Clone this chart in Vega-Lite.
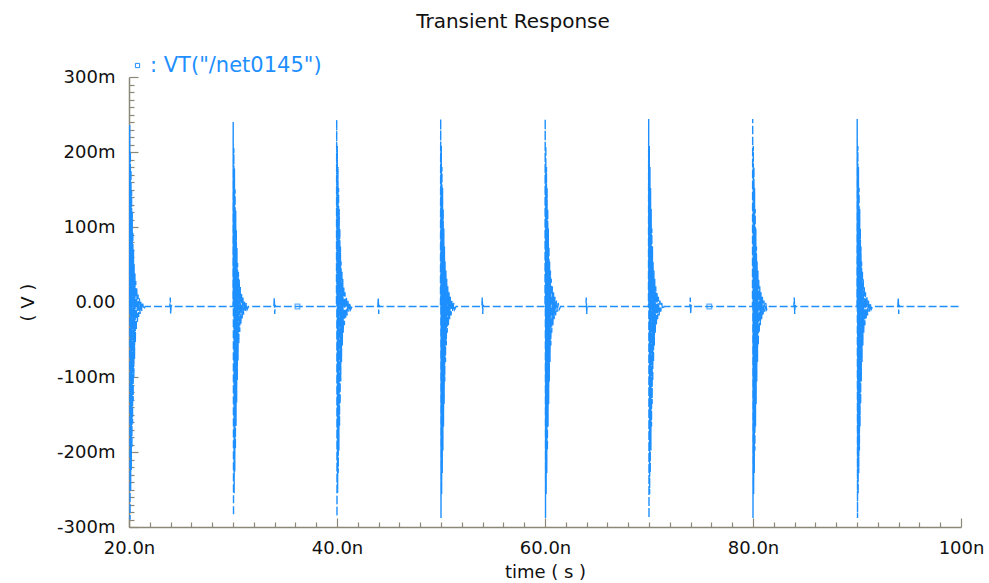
{
  "$schema": "https://vega.github.io/schema/vega-lite/v6.json",
  "autosize": "none",
  "width": 832,
  "height": 450,
  "padding": {"left": 129, "top": 77, "right": 28, "bottom": 56},
  "background": "white",
  "config": {
    "view": {"stroke": null},
    "font": "DejaVu Sans",
    "axis": {
      "domainColor": "#8b8878",
      "tickColor": "#8b8878",
      "domainWidth": 1.5,
      "tickWidth": 1.2,
      "labelColor": "#111111",
      "titleColor": "#111111",
      "labelFont": "DejaVu Sans",
      "titleFont": "DejaVu Sans",
      "labelFontSize": 18,
      "titleFontSize": 18,
      "titleFontWeight": "normal",
      "grid": false
    }
  },
  "title": {
    "text": "Transient Response",
    "font": "DejaVu Sans",
    "fontSize": 20,
    "fontWeight": "normal",
    "color": "#111111",
    "anchor": "middle",
    "dx": -32,
    "offset": 23
  },
  "datasets": {
    "wave": [
      {"t": 20.00, "v": -6}, {"t": 20.05, "v": -6}, {"t": 20.07, "v": 236}, {"t": 20.10, "v": -290}, {"t": 20.13, "v": 200}, {"t": 20.16, "v": -252}, {"t": 20.19, "v": 176}, {"t": 20.22, "v": -224}, {"t": 20.25, "v": 148}, {"t": 20.28, "v": -194}, {"t": 20.31, "v": 120}, {"t": 20.34, "v": -162}, {"t": 20.37, "v": 94}, {"t": 20.40, "v": -132}, {"t": 20.43, "v": 70}, {"t": 20.46, "v": -102}, {"t": 20.49, "v": 50}, {"t": 20.53, "v": -76}, {"t": 20.57, "v": 38}, {"t": 20.61, "v": -54}, {"t": 20.65, "v": 28}, {"t": 20.70, "v": -38}, {"t": 20.75, "v": 18}, {"t": 20.81, "v": -28}, {"t": 20.87, "v": 10}, {"t": 20.93, "v": -20}, {"t": 21.00, "v": 5}, {"t": 21.07, "v": -16}, {"t": 21.15, "v": 1}, {"t": 21.23, "v": -12}, {"t": 21.32, "v": -2}, {"t": 21.41, "v": -10}, {"t": 21.55, "v": -6},
      {"t": 23.93, "v": -6}, {"t": 23.97, "v": 6}, {"t": 24.01, "v": -16}, {"t": 24.05, "v": -4}, {"t": 24.10, "v": -6},
      {"t": 30.00, "v": -6}, {"t": 30.02, "v": 240}, {"t": 30.05, "v": -285}, {"t": 30.08, "v": 205}, {"t": 30.11, "v": -255}, {"t": 30.14, "v": 178}, {"t": 30.17, "v": -226}, {"t": 30.20, "v": 150}, {"t": 30.23, "v": -196}, {"t": 30.26, "v": 122}, {"t": 30.29, "v": -165}, {"t": 30.32, "v": 96}, {"t": 30.35, "v": -134}, {"t": 30.38, "v": 72}, {"t": 30.41, "v": -104}, {"t": 30.44, "v": 52}, {"t": 30.48, "v": -78}, {"t": 30.52, "v": 40}, {"t": 30.56, "v": -56}, {"t": 30.60, "v": 30}, {"t": 30.65, "v": -40}, {"t": 30.70, "v": 20}, {"t": 30.76, "v": -30}, {"t": 30.82, "v": 12}, {"t": 30.88, "v": -22}, {"t": 30.95, "v": 6}, {"t": 31.02, "v": -17}, {"t": 31.10, "v": 2}, {"t": 31.18, "v": -13}, {"t": 31.27, "v": -1}, {"t": 31.36, "v": -10}, {"t": 31.50, "v": -6},
      {"t": 33.93, "v": -6}, {"t": 33.97, "v": 6}, {"t": 34.01, "v": -16}, {"t": 34.05, "v": -4}, {"t": 34.10, "v": -6},
      {"t": 39.95, "v": -6}, {"t": 39.97, "v": 243}, {"t": 40.00, "v": -286}, {"t": 40.03, "v": 208}, {"t": 40.06, "v": -254}, {"t": 40.09, "v": 180}, {"t": 40.12, "v": -228}, {"t": 40.15, "v": 152}, {"t": 40.18, "v": -198}, {"t": 40.21, "v": 124}, {"t": 40.24, "v": -166}, {"t": 40.27, "v": 98}, {"t": 40.30, "v": -136}, {"t": 40.33, "v": 74}, {"t": 40.36, "v": -106}, {"t": 40.39, "v": 54}, {"t": 40.43, "v": -80}, {"t": 40.47, "v": 42}, {"t": 40.51, "v": -58}, {"t": 40.55, "v": 31}, {"t": 40.60, "v": -41}, {"t": 40.65, "v": 21}, {"t": 40.71, "v": -31}, {"t": 40.77, "v": 13}, {"t": 40.83, "v": -23}, {"t": 40.90, "v": 7}, {"t": 40.97, "v": -18}, {"t": 41.05, "v": 2}, {"t": 41.13, "v": -13}, {"t": 41.22, "v": -1}, {"t": 41.31, "v": -10}, {"t": 41.45, "v": -6},
      {"t": 43.93, "v": -6}, {"t": 43.97, "v": 6}, {"t": 44.01, "v": -16}, {"t": 44.05, "v": -4}, {"t": 44.10, "v": -6},
      {"t": 49.95, "v": -6}, {"t": 49.97, "v": 244}, {"t": 50.00, "v": -288}, {"t": 50.03, "v": 208}, {"t": 50.06, "v": -256}, {"t": 50.09, "v": 180}, {"t": 50.12, "v": -228}, {"t": 50.15, "v": 152}, {"t": 50.18, "v": -198}, {"t": 50.21, "v": 124}, {"t": 50.24, "v": -166}, {"t": 50.27, "v": 98}, {"t": 50.30, "v": -136}, {"t": 50.33, "v": 74}, {"t": 50.36, "v": -106}, {"t": 50.39, "v": 54}, {"t": 50.43, "v": -80}, {"t": 50.47, "v": 42}, {"t": 50.51, "v": -58}, {"t": 50.55, "v": 31}, {"t": 50.60, "v": -41}, {"t": 50.65, "v": 21}, {"t": 50.71, "v": -31}, {"t": 50.77, "v": 13}, {"t": 50.83, "v": -23}, {"t": 50.90, "v": 7}, {"t": 50.97, "v": -18}, {"t": 51.05, "v": 2}, {"t": 51.13, "v": -13}, {"t": 51.22, "v": -1}, {"t": 51.31, "v": -10}, {"t": 51.45, "v": -6},
      {"t": 53.93, "v": -6}, {"t": 53.97, "v": 6}, {"t": 54.01, "v": -16}, {"t": 54.05, "v": -4}, {"t": 54.10, "v": -6},
      {"t": 60.00, "v": -6}, {"t": 60.02, "v": 244}, {"t": 60.05, "v": -288}, {"t": 60.08, "v": 208}, {"t": 60.11, "v": -256}, {"t": 60.14, "v": 180}, {"t": 60.17, "v": -228}, {"t": 60.20, "v": 152}, {"t": 60.23, "v": -198}, {"t": 60.26, "v": 124}, {"t": 60.29, "v": -166}, {"t": 60.32, "v": 98}, {"t": 60.35, "v": -136}, {"t": 60.38, "v": 74}, {"t": 60.41, "v": -106}, {"t": 60.44, "v": 54}, {"t": 60.48, "v": -80}, {"t": 60.52, "v": 42}, {"t": 60.56, "v": -58}, {"t": 60.60, "v": 31}, {"t": 60.65, "v": -41}, {"t": 60.70, "v": 21}, {"t": 60.76, "v": -31}, {"t": 60.82, "v": 13}, {"t": 60.88, "v": -23}, {"t": 60.95, "v": 7}, {"t": 61.02, "v": -18}, {"t": 61.10, "v": 2}, {"t": 61.18, "v": -13}, {"t": 61.27, "v": -1}, {"t": 61.36, "v": -10}, {"t": 61.50, "v": -6},
      {"t": 63.93, "v": -6}, {"t": 63.97, "v": 6}, {"t": 64.01, "v": -16}, {"t": 64.05, "v": -4}, {"t": 64.10, "v": -6},
      {"t": 69.95, "v": -6}, {"t": 69.97, "v": 244}, {"t": 70.00, "v": -288}, {"t": 70.03, "v": 208}, {"t": 70.06, "v": -256}, {"t": 70.09, "v": 180}, {"t": 70.12, "v": -228}, {"t": 70.15, "v": 152}, {"t": 70.18, "v": -198}, {"t": 70.21, "v": 124}, {"t": 70.24, "v": -166}, {"t": 70.27, "v": 98}, {"t": 70.30, "v": -136}, {"t": 70.33, "v": 74}, {"t": 70.36, "v": -106}, {"t": 70.39, "v": 54}, {"t": 70.43, "v": -80}, {"t": 70.47, "v": 42}, {"t": 70.51, "v": -58}, {"t": 70.55, "v": 31}, {"t": 70.60, "v": -41}, {"t": 70.65, "v": 21}, {"t": 70.71, "v": -31}, {"t": 70.77, "v": 13}, {"t": 70.83, "v": -23}, {"t": 70.90, "v": 7}, {"t": 70.97, "v": -18}, {"t": 71.05, "v": 2}, {"t": 71.13, "v": -13}, {"t": 71.22, "v": -1}, {"t": 71.31, "v": -10}, {"t": 71.45, "v": -6},
      {"t": 73.93, "v": -6}, {"t": 73.97, "v": 6}, {"t": 74.01, "v": -16}, {"t": 74.05, "v": -4}, {"t": 74.10, "v": -6},
      {"t": 79.95, "v": -6}, {"t": 79.97, "v": 244}, {"t": 80.00, "v": -288}, {"t": 80.03, "v": 208}, {"t": 80.06, "v": -256}, {"t": 80.09, "v": 180}, {"t": 80.12, "v": -228}, {"t": 80.15, "v": 152}, {"t": 80.18, "v": -198}, {"t": 80.21, "v": 124}, {"t": 80.24, "v": -166}, {"t": 80.27, "v": 98}, {"t": 80.30, "v": -136}, {"t": 80.33, "v": 74}, {"t": 80.36, "v": -106}, {"t": 80.39, "v": 54}, {"t": 80.43, "v": -80}, {"t": 80.47, "v": 42}, {"t": 80.51, "v": -58}, {"t": 80.55, "v": 31}, {"t": 80.60, "v": -41}, {"t": 80.65, "v": 21}, {"t": 80.71, "v": -31}, {"t": 80.77, "v": 13}, {"t": 80.83, "v": -23}, {"t": 80.90, "v": 7}, {"t": 80.97, "v": -18}, {"t": 81.05, "v": 2}, {"t": 81.13, "v": -13}, {"t": 81.22, "v": -1}, {"t": 81.31, "v": -10}, {"t": 81.45, "v": -6},
      {"t": 83.93, "v": -6}, {"t": 83.97, "v": 6}, {"t": 84.01, "v": -16}, {"t": 84.05, "v": -4}, {"t": 84.10, "v": -6},
      {"t": 90.00, "v": -6}, {"t": 90.02, "v": 244}, {"t": 90.05, "v": -288}, {"t": 90.08, "v": 208}, {"t": 90.11, "v": -256}, {"t": 90.14, "v": 180}, {"t": 90.17, "v": -228}, {"t": 90.20, "v": 152}, {"t": 90.23, "v": -198}, {"t": 90.26, "v": 124}, {"t": 90.29, "v": -166}, {"t": 90.32, "v": 98}, {"t": 90.35, "v": -136}, {"t": 90.38, "v": 74}, {"t": 90.41, "v": -106}, {"t": 90.44, "v": 54}, {"t": 90.48, "v": -80}, {"t": 90.52, "v": 42}, {"t": 90.56, "v": -58}, {"t": 90.60, "v": 31}, {"t": 90.65, "v": -41}, {"t": 90.70, "v": 21}, {"t": 90.76, "v": -31}, {"t": 90.82, "v": 13}, {"t": 90.88, "v": -23}, {"t": 90.95, "v": 7}, {"t": 91.02, "v": -18}, {"t": 91.10, "v": 2}, {"t": 91.18, "v": -13}, {"t": 91.27, "v": -1}, {"t": 91.36, "v": -10}, {"t": 91.50, "v": -6},
      {"t": 93.93, "v": -6}, {"t": 93.97, "v": 6}, {"t": 94.01, "v": -16}, {"t": 94.05, "v": -4}, {"t": 94.10, "v": -6},
      {"t": 100.0, "v": -6}
    ],
    "markers": [
      {"t": 36.2, "v": -6},
      {"t": 75.8, "v": -6}
    ]
  },
  "layer": [
    {
      "data": {"name": "wave"},
      "mark": {"type": "line", "strokeWidth": 1.4, "strokeDash": [8, 3], "clip": true, "interpolate": "linear"},
      "encoding": {
        "x": {
          "field": "t",
          "type": "quantitative",
          "scale": {"domain": [20, 100], "nice": false, "zero": false},
          "axis": {
            "title": "time ( s )",
            "titlePadding": 2,
            "tickCount": 200,
            "values": [20,22,24,26,28,30,32,34,36,38,40,42,44,46,48,50,52,54,56,58,60,62,64,66,68,70,72,74,76,78,80,82,84,86,88,90,92,94,96,98,100],
            "labelExpr": "datum.value % 20 == 0 ? (datum.value == 100 ? '100n' : format(datum.value, '.1f') + 'n') : ''",
            "tickSize": {"condition": {"test": "datum.value % 20 == 0", "value": -9}, "value": -5},
            "labelPadding": 21,
            "labelFlush": false,
            "labelOverlap": false
          }
        },
        "y": {
          "field": "v",
          "type": "quantitative",
          "scale": {"domain": [-300, 300], "nice": false, "zero": false},
          "axis": {
            "title": "( V )",
            "titlePadding": 19,
            "tickCount": 200,
            "values": [-300,-290,-280,-270,-260,-250,-240,-230,-220,-210,-200,-190,-180,-170,-160,-150,-140,-130,-120,-110,-100,-90,-80,-70,-60,-50,-40,-30,-20,-10,0,10,20,30,40,50,60,70,80,90,100,110,120,130,140,150,160,170,180,190,200,210,220,230,240,250,260,270,280,290,300],
            "labelExpr": "datum.value % 100 == 0 ? (datum.value == 0 ? '0.00' : datum.value + 'm') : ''",
            "tickSize": {"condition": {"test": "datum.value % 100 == 0", "value": -9}, "value": -5},
            "labelPadding": 23,
            "labelFlush": false,
            "labelOverlap": false
          }
        },
        "color": {
          "datum": "VT(\"/net0145\")",
          "type": "nominal",
          "scale": {"range": ["#1e8fff"]},
          "legend": {
            "title": null,
            "orient": "none",
            "legendX": -2,
            "legendY": -22,
            "symbolType": "square",
            "symbolSize": 18,
            "symbolStrokeWidth": 1,
            "labelFont": "DejaVu Sans",
            "labelFontSize": 21,
            "labelColor": "#1e8fff",
            "labelLimit": 500,
            "labelExpr": "': ' + datum.label",
            "labelOffset": 2
          }
        }
      }
    },
    {
      "data": {"name": "markers"},
      "mark": {"type": "point", "shape": "square", "size": 22, "filled": false, "strokeWidth": 1.2, "color": "#1e8fff"},
      "encoding": {
        "x": {"field": "t", "type": "quantitative"},
        "y": {"field": "v", "type": "quantitative"}
      }
    }
  ]
}
